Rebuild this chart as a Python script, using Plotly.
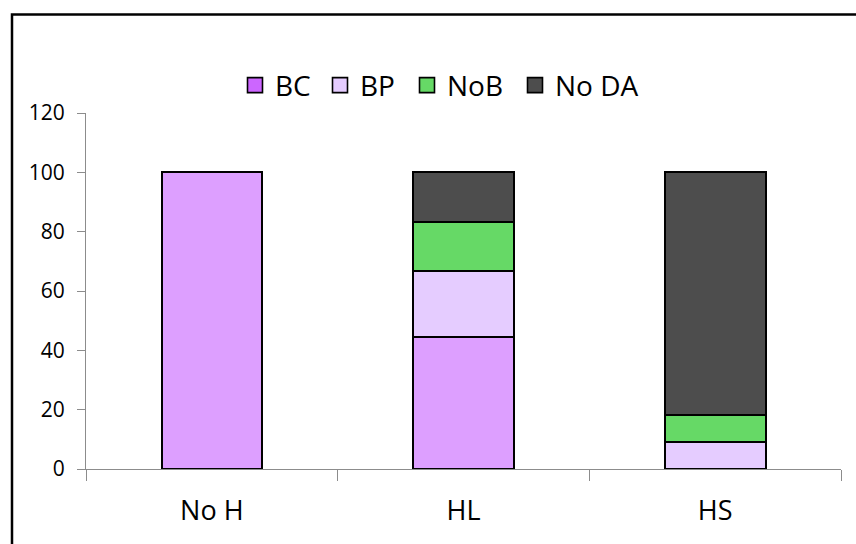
import plotly.graph_objects as go

categories = ["No H", "HL", "HS"]
series_names = ["BC", "BP", "NoB", "No DA"]
bc = [100, 44.4, 0]
bp = [0, 22.2, 9.1]
nob = [0, 16.7, 9.1]
no_da = [0, 16.7, 81.8]
y_ticks = [0, 20, 40, 60, 80, 100, 120]

bar_colors = ["#DD9FFF", "#E5CCFF", "#66D966", "#4D4D4D"]
legend_colors = ["#CC66FF", "#E5CCFF", "#66D966", "#4D4D4D"]
# left edge (px) of each legend entry
legend_left_px = [235, 320, 407, 515]

FONT = "Open Sans"

# plot area in pixels
PX_L, PX_R, PX_T, PX_B = 86, 841, 112.6, 469
W, H = 856, 544
pw, ph = PX_R - PX_L, PX_B - PX_T

fig = go.Figure()
for name, vals, col in zip(series_names, [bc, bp, nob, no_da], bar_colors):
    fig.add_trace(go.Bar(
        x=categories, y=vals, name=name, showlegend=False,
        marker=dict(color=col, line=dict(color="black", width=2)),
        width=0.4,
    ))

legend_layout = {}
for i, (name, col, lx) in enumerate(zip(series_names, legend_colors, legend_left_px)):
    key = "legend" if i == 0 else f"legend{i + 1}"
    fig.add_trace(go.Scatter(
        x=[None], y=[None], mode="markers", name=name, showlegend=True,
        legend=key,
        marker=dict(symbol="square", size=15, color=col,
                    line=dict(color="black", width=1.6)),
    ))
    legend_layout[key] = dict(
        orientation="h", x=(lx - PX_L) / pw, xanchor="left",
        y=(PX_B - 85) / ph, yanchor="middle",
        font=dict(size=28, family=FONT, color="black"),
        bgcolor="rgba(0,0,0,0)", itemclick=False,
    )

fig.update_layout(
    barmode="stack",
    width=W, height=H,
    margin=dict(l=PX_L, r=W - PX_R, t=PX_T, b=H - PX_B),
    paper_bgcolor="white", plot_bgcolor="white",
    font=dict(family=FONT, color="black"),
    xaxis=dict(
        showline=True, linecolor="#8c8c8c", linewidth=1,
        ticks="outside", tickson="boundaries", ticklen=11, tickcolor="#8c8c8c",
        tickfont=dict(size=27, family=FONT), showgrid=False,
        ticklabelstandoff=18,
    ),
    yaxis=dict(
        range=[0, 120], tickvals=y_ticks, showline=True, linecolor="#8c8c8c",
        linewidth=1, ticks="outside", ticklen=8, tickcolor="#8c8c8c",
        tickfont=dict(size=21, family=FONT), showgrid=False, zeroline=False,
        ticklabelstandoff=8,
    ),
    shapes=[dict(
        type="rect", xref="paper", yref="paper",
        x0=(12 - PX_L) / pw, x1=(870 - PX_L) / pw,
        y0=(PX_B - 560) / ph, y1=(PX_B - 14) / ph,
        line=dict(color="black", width=2.5), fillcolor="rgba(0,0,0,0)",
    )],
    **legend_layout,
)

fig.write_html("out.html")
